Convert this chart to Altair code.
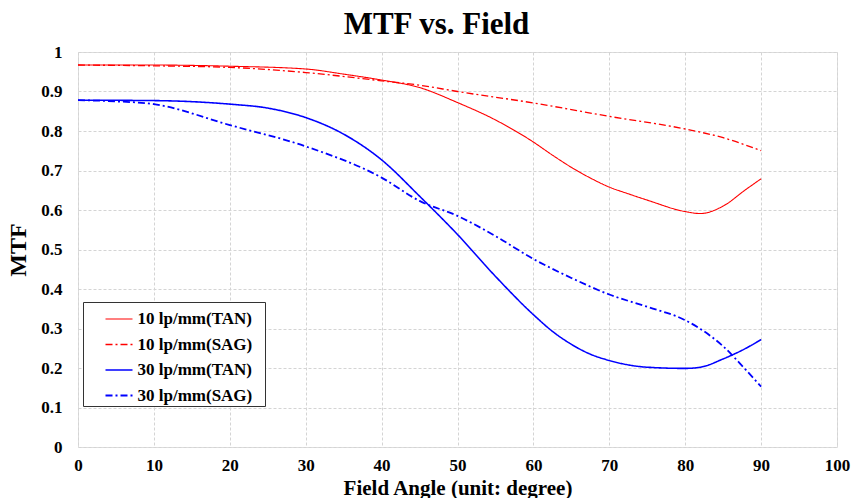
import altair as alt
import pandas as pd

series_names = ["10 lp/mm(TAN)", "10 lp/mm(SAG)", "30 lp/mm(TAN)", "30 lp/mm(SAG)"]
series_colors = ["#ff0000", "#ff0000", "#0000ff", "#0000ff"]
series_dash = [[1, 0], [7, 3, 2, 3], [1, 0], [7, 3, 2, 3]]
series_width = [1.1, 1.8, 1.1, 1.8]

tan10_x = [0, 10, 20, 30, 35, 40, 45, 50, 55, 60, 62.5, 65, 67.5, 70, 72.5, 75, 80, 82, 85, 88, 90]
tan10_y = [0.967, 0.967, 0.964, 0.957, 0.944, 0.929, 0.910, 0.872, 0.828, 0.772, 0.739, 0.708, 0.681, 0.658, 0.641, 0.625, 0.596, 0.591, 0.610, 0.652, 0.679]

sag10_x = [0, 10, 20, 30, 40, 45, 50, 60, 70, 80, 85, 90]
sag10_y = [0.967, 0.965, 0.961, 0.948, 0.927, 0.916, 0.900, 0.871, 0.837, 0.805, 0.783, 0.750]

tan30_x = [0, 10, 20, 25, 30, 35, 40, 45, 50, 55, 60, 62.5, 65, 67.5, 70, 75, 80, 82, 85, 88, 90]
tan30_y = [0.878, 0.877, 0.868, 0.858, 0.834, 0.792, 0.727, 0.635, 0.538, 0.432, 0.335, 0.293, 0.260, 0.235, 0.219, 0.202, 0.199, 0.202, 0.223, 0.250, 0.272]

sag30_x = [0, 5, 10, 20, 30, 40, 45, 50, 55, 60, 65, 70, 75, 80, 82, 85, 88, 90]
sag30_y = [0.878, 0.875, 0.868, 0.815, 0.761, 0.682, 0.623, 0.585, 0.534, 0.476, 0.428, 0.386, 0.355, 0.321, 0.299, 0.255, 0.195, 0.153]

rows = []
for name, xs, ys in zip(series_names,
                        [tan10_x, sag10_x, tan30_x, sag30_x],
                        [tan10_y, sag10_y, tan30_y, sag30_y]):
    for i, (xv, yv) in enumerate(zip(xs, ys)):
        rows.append({"series": name, "angle": xv, "mtf": yv, "order": i})
df = pd.DataFrame(rows)

FONT = "Liberation Serif"

legend = alt.Legend(
    title=".", titleOrient="right", titleColor="#ffffff", titleFontSize=8, titlePadding=7,
    orient="none", legendX=5, legendY=250,
    symbolType="stroke", symbolSize=729, symbolStrokeWidth=1.5,
    labelFont=FONT, labelFontSize=17, labelFontWeight="bold", labelColor="#000000",
    strokeColor="#333333", fillColor="#ffffff", padding=2.5, rowPadding=2.5,
    symbolOffset=19, labelOffset=4,
)

chart = alt.Chart(df).mark_line(interpolate="monotone").encode(
    x=alt.X("angle:Q", scale=alt.Scale(domain=[0, 100], nice=False),
            axis=alt.Axis(title="Field Angle (unit: degree)", values=list(range(0, 101, 10)),
                          grid=True, gridDash=[3, 2], gridColor="#d4d4d4",
                          ticks=False, domain=False, labelPadding=10,
                          labelFont=FONT, labelFontSize=17, labelFontWeight="bold", labelColor="#000",
                          titleFont=FONT, titleFontSize=21, titleFontWeight="bold", titleColor="#000",
                          titlePadding=4, labelFlush=False)),
    y=alt.Y("mtf:Q", scale=alt.Scale(domain=[0, 1], nice=False),
            axis=alt.Axis(title="MTF", values=[i / 10 for i in range(11)],
                          labelExpr="datum.value == 0 ? '0' : datum.value == 1 ? '1' : format(datum.value, '.1f')",
                          grid=True, gridDash=[3, 2], gridColor="#d4d4d4",
                          ticks=False, domain=False, labelPadding=16,
                          labelFont=FONT, labelFontSize=17, labelFontWeight="bold", labelColor="#000",
                          titleFont=FONT, titleFontSize=24, titleFontWeight="bold", titleColor="#000",
                          titlePadding=10, labelFlush=False)),
    color=alt.Color("series:N", scale=alt.Scale(domain=series_names, range=series_colors), legend=legend),
    strokeDash=alt.StrokeDash("series:N", scale=alt.Scale(domain=series_names, range=series_dash), legend=legend),
    strokeWidth=alt.StrokeWidth("series:N", scale=alt.Scale(domain=series_names, range=series_width), legend=None),
    order="order:Q",
).properties(
    width=759, height=395,
    title=alt.TitleParams("MTF vs. Field", font=FONT, fontSize=31, fontWeight="bold", color="#000",
                          anchor="middle", dx=-21, offset=2),
    autosize=alt.AutoSizeParams(type="none"),
    padding={"left": 78, "top": 52, "right": 18, "bottom": 51},
).configure_view(stroke="#404040", strokeWidth=1).configure(background="#ffffff")

chart.save("out.html", embed_options={"renderer": "svg", "actions": False})
